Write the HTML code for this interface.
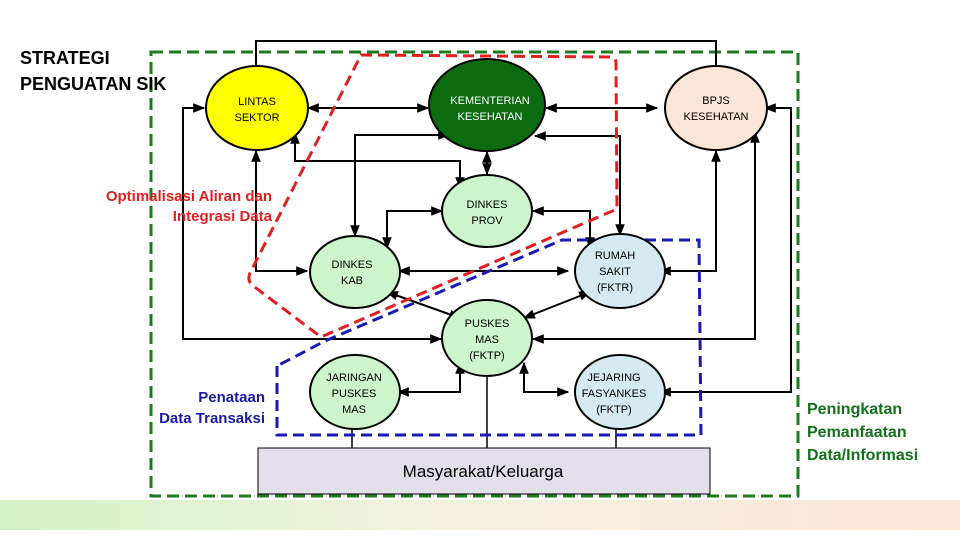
<!DOCTYPE html>
<html><head><meta charset="utf-8"><style>
html,body{margin:0;padding:0;background:#fff;width:960px;height:540px;overflow:hidden}
svg{display:block}
text{font-family:"Liberation Sans",sans-serif}
</style></head><body>
<svg width="960" height="540" viewBox="0 0 960 540" xmlns="http://www.w3.org/2000/svg">
<defs>
<linearGradient id="band" x1="0" x2="1" y1="0" y2="0">
<stop offset="0" stop-color="#d4f3c6"/><stop offset="0.45" stop-color="#f3f1de"/><stop offset="1" stop-color="#fbe6d8"/>
</linearGradient>
<marker id="a" viewBox="0 0 10 10" refX="9" refY="5" markerWidth="6" markerHeight="6" orient="auto-start-reverse"><path d="M0,1 L10,5 L0,9 z" fill="#000"/></marker>
</defs>
<rect x="0" y="500" width="960" height="30" fill="url(#band)"/>

<rect x="151" y="52" width="647" height="444" fill="none" stroke="#1e7a1e" stroke-width="3" stroke-dasharray="12,6"/>

<g fill="none" stroke="#000" stroke-width="2">
<polyline points="256,85 256,41 716,41 716,84" marker-start="url(#a)" marker-end="url(#a)"/>
<line x1="308" y1="108" x2="428" y2="108" marker-start="url(#a)" marker-end="url(#a)"/>
<line x1="546" y1="108" x2="657" y2="108" marker-start="url(#a)" marker-end="url(#a)"/>
<line x1="487" y1="152" x2="487" y2="174" marker-start="url(#a)" marker-end="url(#a)"/>
<polyline points="204,108 183,108 183,339 441,339" marker-start="url(#a)" marker-end="url(#a)"/>
<polyline points="765,108 791,108 791,392 660,392" marker-start="url(#a)" marker-end="url(#a)"/>
<polyline points="755,132 755,339 533,339" marker-start="url(#a)" marker-end="url(#a)"/>
<polyline points="716,151 716,271 660,271" marker-start="url(#a)" marker-end="url(#a)"/>
<polyline points="295,133 295,161 460,161 460,188" marker-start="url(#a)" marker-end="url(#a)"/>
<polyline points="449,135 355,135 355,236" marker-start="url(#a)" marker-end="url(#a)"/>
<polyline points="535,136 620,136 620,235" marker-start="url(#a)" marker-end="url(#a)"/>
<polyline points="442,211 387,211 387,248" marker-start="url(#a)" marker-end="url(#a)"/>
<polyline points="533,211 590,211 590,248" marker-start="url(#a)" marker-end="url(#a)"/>
<polyline points="256,151 256,271 307,271" marker-start="url(#a)" marker-end="url(#a)"/>
<line x1="399" y1="271" x2="568" y2="271" marker-start="url(#a)" marker-end="url(#a)"/>
<line x1="387" y1="292" x2="460" y2="318" marker-start="url(#a)" marker-end="url(#a)"/>
<line x1="590" y1="292" x2="524" y2="318" marker-start="url(#a)" marker-end="url(#a)"/>
<polyline points="460,363 460,392 398,392" marker-start="url(#a)" marker-end="url(#a)"/>
<polyline points="524,363 524,392 568,392" marker-start="url(#a)" marker-end="url(#a)"/>
</g>
<g stroke="#000" stroke-width="1.5">
<line x1="352" y1="429" x2="352" y2="449"/>
<line x1="487" y1="376" x2="487" y2="449"/>
<line x1="616" y1="429" x2="616" y2="449"/>
</g>

<path d="M361,55 L610,57 Q616,57 616,63 L617,209 L321,337 L252,285 Q247,280 250,273 Z" fill="none" stroke="#e02020" stroke-width="3" stroke-dasharray="11,6"/>
<path d="M277,366 L277,435 L701,435 L699,240 L562,240 L325,341 Z" fill="none" stroke="#1a1ab0" stroke-width="3" stroke-dasharray="11,6"/>

<g stroke="#000" stroke-width="2">
<ellipse cx="257" cy="108" rx="51" ry="42" fill="#ffff00"/>
<ellipse cx="487" cy="105" rx="58" ry="46" fill="#0b6b10"/>
<ellipse cx="716" cy="108" rx="51" ry="42" fill="#fbe5d6"/>
<ellipse cx="487" cy="211" rx="45" ry="36" fill="#ccf5cc"/>
<ellipse cx="355" cy="272" rx="45" ry="36" fill="#ccf5cc"/>
<ellipse cx="620" cy="271" rx="45" ry="37" fill="#d5e9f1"/>
<ellipse cx="487" cy="338" rx="45" ry="38" fill="#ccf5cc"/>
<ellipse cx="355" cy="392" rx="45" ry="37" fill="#ccf5cc"/>
<ellipse cx="620" cy="392" rx="45" ry="37" fill="#d5e9f1"/>
</g>
<rect x="258" y="448" width="452" height="46" fill="#e3dfea" stroke="#000" stroke-width="1"/>

<g font-size="11" text-anchor="middle" fill="#000">
<text x="257" y="105">LINTAS</text><text x="257" y="121">SEKTOR</text>
<text x="490" y="104" fill="#fff">KEMENTERIAN</text><text x="490" y="120" fill="#fff">KESEHATAN</text>
<text x="716" y="104">BPJS</text><text x="716" y="120">KESEHATAN</text>
<text x="487" y="208">DINKES</text><text x="487" y="224">PROV</text>
<text x="352" y="268">DINKES</text><text x="352" y="284">KAB</text>
<text x="615" y="259">RUMAH</text><text x="615" y="275">SAKIT</text><text x="615" y="291">(FKTR)</text>
<text x="487" y="327">PUSKES</text><text x="487" y="343">MAS</text><text x="487" y="359">(FKTP)</text>
<text x="354" y="381">JARINGAN</text><text x="354" y="397">PUSKES</text><text x="354" y="413">MAS</text>
<text x="614" y="381">JEJARING</text><text x="614" y="397">FASYANKES</text><text x="614" y="413">(FKTP)</text>
</g>
<text x="483" y="477" font-size="17" text-anchor="middle">Masyarakat/Keluarga</text>

<g font-size="18" fill="#000" font-weight="bold">
<text x="20" y="64">STRATEGI</text><text x="20" y="90">PENGUATAN SIK</text>
</g>
<g font-size="15" fill="#e02020" text-anchor="end" font-weight="bold">
<text x="272" y="201">Optimalisasi Aliran dan</text><text x="272" y="221">Integrasi Data</text>
</g>
<g font-size="15" fill="#1a1aa0" text-anchor="end" font-weight="bold">
<text x="265" y="402">Penataan</text><text x="265" y="423">Data Transaksi</text>
</g>
<g font-size="16" fill="#12701a" font-weight="bold">
<text x="807" y="414">Peningkatan</text><text x="807" y="437">Pemanfaatan</text><text x="807" y="460">Data/Informasi</text>
</g>
</svg>
</body></html>
